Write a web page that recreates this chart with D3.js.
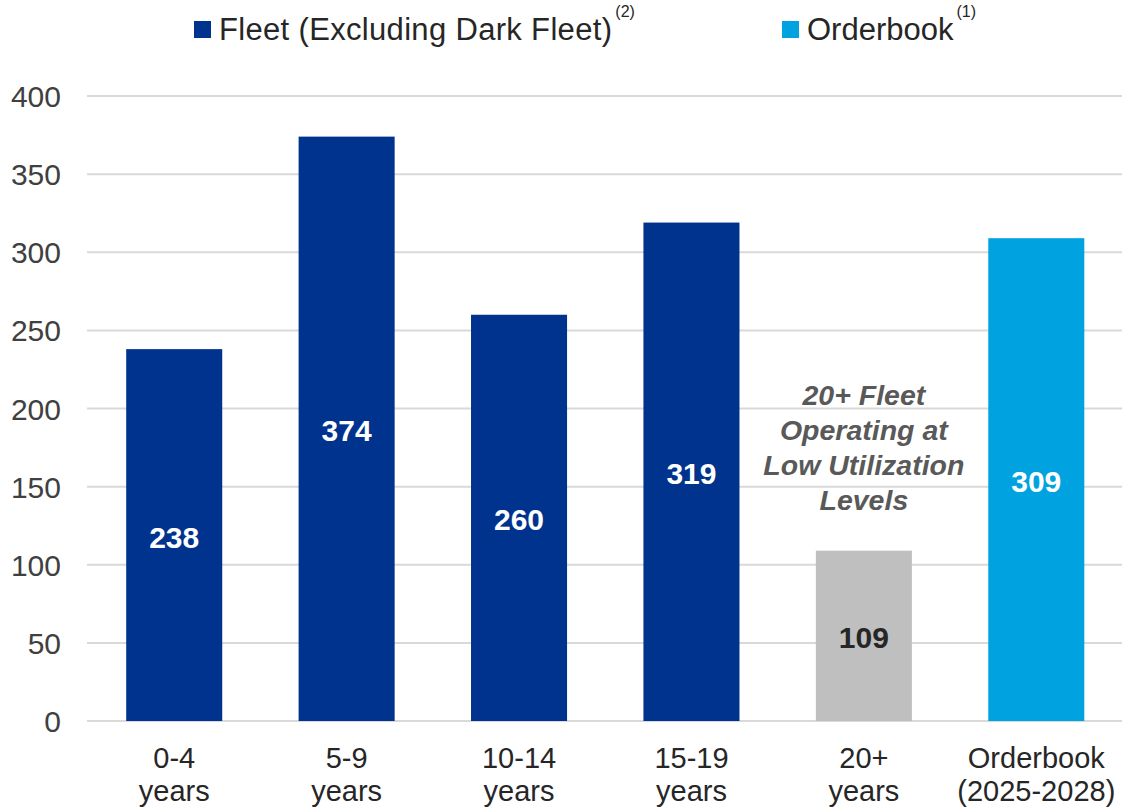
<!DOCTYPE html>
<html><head><meta charset="utf-8">
<script src="https://cdn.jsdelivr.net/npm/d3@7"></script>
<style>
html,body{margin:0;padding:0;background:#fff;}
svg{display:block;font-family:"Liberation Sans",Arial,sans-serif;}
</style></head>
<body>
<svg id="chart" width="1122" height="811"></svg>
<script>
const categories = ["0-4|years", "5-9|years", "10-14|years", "15-19|years", "20+|years", "Orderbook|(2025-2028)"];
const values = [238, 374, 260, 319, 109, 309];
const seriesType = ["fleet", "fleet", "fleet", "fleet", "old", "orderbook"];
const yTicks = [0, 50, 100, 150, 200, 250, 300, 350, 400];
const legendItems = [{key: "fleet", label: "Fleet (Excluding Dark Fleet)", sup: "(2)"}, {key: "orderbook", label: "Orderbook", sup: "(1)"}];
const annotationLines = ["20+ Fleet", "Operating at", "Low Utilization", "Levels"];

const colors = {fleet: "#00338D", old: "#BFBFBF", orderbook: "#00A3E0"};
const labelColors = {fleet: "#FFFFFF", old: "#262626", orderbook: "#FFFFFF"};

const svg = d3.select("#chart");
const x = d3.scaleBand().domain(categories).range([88, 1122.5]).paddingInner(0.443).paddingOuter(0.2215);
const y = d3.scaleLinear().domain([0, 400]).range([721, 96]);

// gridlines
svg.append("g").selectAll("line").data(yTicks).join("line")
  .attr("x1", 87).attr("x2", 1122)
  .attr("y1", d => y(d)).attr("y2", d => y(d))
  .attr("stroke", "#D9D9D9").attr("stroke-width", 2);

// y axis labels
const yAxis = d3.axisLeft(y).tickValues(yTicks).tickSize(0).tickPadding(0);
const yg = svg.append("g").attr("transform", "translate(61,0)").call(yAxis);
yg.select(".domain").remove();
yg.selectAll("text").attr("font-size", 30).attr("fill", "#404040")
  .attr("font-family", "Liberation Sans, Arial, sans-serif").attr("dy", "0.35em");

// bars
const data = categories.map((c, i) => ({c, v: values[i], t: seriesType[i]}));
svg.append("g").selectAll("rect").data(data).join("rect")
  .attr("x", d => x(d.c)).attr("width", x.bandwidth())
  .attr("y", d => y(d.v)).attr("height", d => y(0) - y(d.v))
  .attr("fill", d => colors[d.t]);

// value labels
svg.append("g").selectAll("text").data(data).join("text")
  .attr("x", d => x(d.c) + x.bandwidth() / 2)
  .attr("y", d => (y(d.v) + y(0)) / 2 + 2)
  .attr("dy", "0.35em")
  .attr("text-anchor", "middle").attr("font-size", 30).attr("font-weight", "bold")
  .attr("fill", d => labelColors[d.t]).text(d => d.v);

// x axis labels
const xAxis = d3.axisBottom(x).tickSize(0).tickFormat(() => "");
const xg = svg.append("g").attr("transform", "translate(0,721)").call(xAxis);
xg.select(".domain").remove();
xg.selectAll(".tick").each(function(d) {
  const parts = d.split("|");
  const t = d3.select(this).select("text").text(null)
    .attr("y", 0).attr("dy", null)
    .attr("font-size", 29).attr("fill", "#262626")
    .attr("font-family", "Liberation Sans, Arial, sans-serif");
  parts.forEach((p, k) => t.append("tspan").attr("x", 0).attr("y", 47 + k * 33).text(p));
});

// annotation
const annX = x(categories[4]) + x.bandwidth() / 2;
svg.append("g").selectAll("text").data(annotationLines).join("text")
  .attr("x", annX).attr("y", (d, i) => 405 + i * 35)
  .attr("text-anchor", "middle").attr("font-size", 28.5).attr("font-weight", "bold")
  .attr("font-style", "italic").attr("fill", "#595959").text(d => d);

// legend
const legPos = [{sx: 194, tx: 219}, {sx: 782, tx: 807}];
legendItems.forEach((it, i) => {
  const g = svg.append("g");
  g.append("rect").attr("x", legPos[i].sx).attr("y", 21).attr("width", 17).attr("height", 17).attr("fill", colors[it.key]);
  const t = g.append("text").attr("x", legPos[i].tx).attr("y", 40).attr("font-size", 31).attr("fill", "#262626");
  t.append("tspan").attr("textLength", i === 0 ? 393 : null).text(it.label);
  t.append("tspan").attr("dx", 3).attr("dy", -23).attr("font-size", 16).text(it.sup);
});
</script>
</body></html>
